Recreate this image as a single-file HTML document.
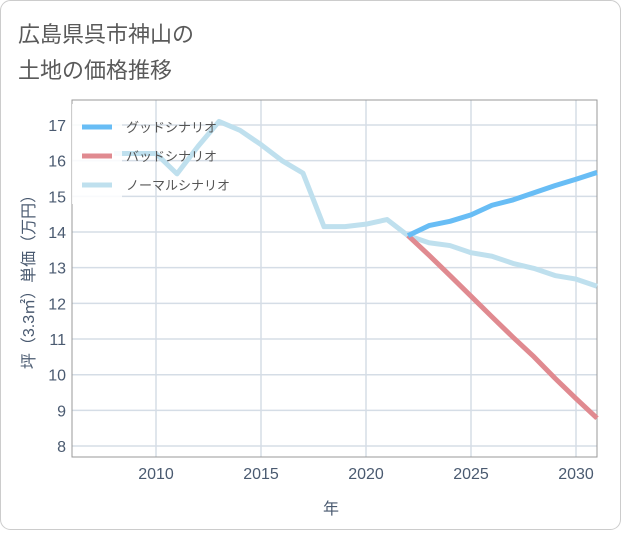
<!DOCTYPE html>
<html><head><meta charset="utf-8"><style>
body{margin:0;background:#fff;font-family:"Liberation Sans","Noto Sans CJK JP",sans-serif;}
</style></head><body>
<svg width="621" height="530" xmlns="http://www.w3.org/2000/svg">
<rect x="0.5" y="0.5" width="620" height="529" rx="10" fill="#fff" stroke="#ccc"/>
<text x="18" y="42" font-size="22" fill="#5a5a5a">広島県呉市神山の</text>
<text x="18" y="78" font-size="22" fill="#5a5a5a">土地の価格推移</text>
<g id="grid"></g>
<rect x="72" y="100" width="525" height="357" fill="none" stroke="#999"/>
<g id="series"></g>
<rect x="72" y="104" width="50" height="100" fill="#fff" opacity="0.85"/>
<g id="legend"></g>
<g id="ticks"></g>
<text x="331" y="514" font-size="16" fill="#4a5a70" text-anchor="middle">年</text>
<text transform="translate(34,278) rotate(-90)" font-size="16" fill="#4a5a70" text-anchor="middle">坪（3.3㎡）単価（万円）</text>
</svg>
<script>
const xTicks=[2010,2015,2020,2025,2030];
const yTicks=[8,9,10,11,12,13,14,15,16,17];
const normalYears=[2008,2009,2010,2011,2012,2013,2014,2015,2016,2017,2018,2019,2020,2021,2022,2023,2024,2025,2026,2027,2028,2029,2030,2031];
const normalValues=[16.2,16.2,16.2,15.63,16.4,17.1,16.85,16.45,16.0,15.65,14.15,14.15,14.22,14.35,13.9,13.7,13.62,13.42,13.32,13.12,12.98,12.78,12.68,12.48];
const futureYears=[2022,2023,2024,2025,2026,2027,2028,2029,2030,2031];
const goodValues=[13.9,14.18,14.3,14.48,14.75,14.9,15.1,15.3,15.48,15.67];
const badValues=[13.9,13.35,12.78,12.2,11.62,11.05,10.5,9.9,9.33,8.78];
const NS="http://www.w3.org/2000/svg";
const x=y=>156+(y-2010)*21;
const yv=v=>125+(17-v)*35.67;
function mk(tag,attrs,parent){const e=document.createElementNS(NS,tag);for(const k in attrs)e.setAttribute(k,attrs[k]);document.getElementById(parent).appendChild(e);return e;}
xTicks.forEach(t=>{
 const l=mk('line',{x1:x(t),x2:x(t),y1:100,y2:457,stroke:'#d5dde6','stroke-width':1.5},'grid');
 
 
 const tx=mk('text',{x:x(t),y:479,'font-size':16,fill:'#4a5a70','text-anchor':'middle'},'ticks');
 tx.textContent=t;
 
 
});
yTicks.forEach(t=>{
 const l=mk('line',{x1:72,x2:597,y1:yv(t),y2:yv(t),stroke:'#d5dde6','stroke-width':1.5},'grid');
 
 
 const tx=mk('text',{x:66,y:yv(t)+6,'font-size':16,fill:'#4a5a70','text-anchor':'end'},'ticks');
 tx.textContent=t;
 
 
});
function line(xs,vs,color,name){
 const p=mk('polyline',{points:xs.map((a,i)=>x(a)+','+yv(vs[i])).join(' '),fill:'none',stroke:color,'stroke-width':5,'stroke-linejoin':'round'},'series');
 
 
}
line(normalYears,normalValues,'#bfe0ee','normal-scenario-line');
line(futureYears,badValues,'#e08a90','bad-scenario-line');
line(futureYears,goodValues,'#68bdf5','good-scenario-line');
const leg=[['グッドシナリオ','#68bdf5'],['バッドシナリオ','#e08a90'],['ノーマルシナリオ','#bfe0ee']];
leg.forEach((d,i)=>{
 const yy=127+i*29;
 const l=mk('line',{x1:82,x2:112,y1:yy,y2:yy,stroke:d[1],'stroke-width':5},'legend');
 
 
 const t=mk('text',{x:126,y:yy+5,'font-size':13,fill:'#555'},'legend');
 t.textContent=d[0];
 
 
});
</script>
</body></html>
